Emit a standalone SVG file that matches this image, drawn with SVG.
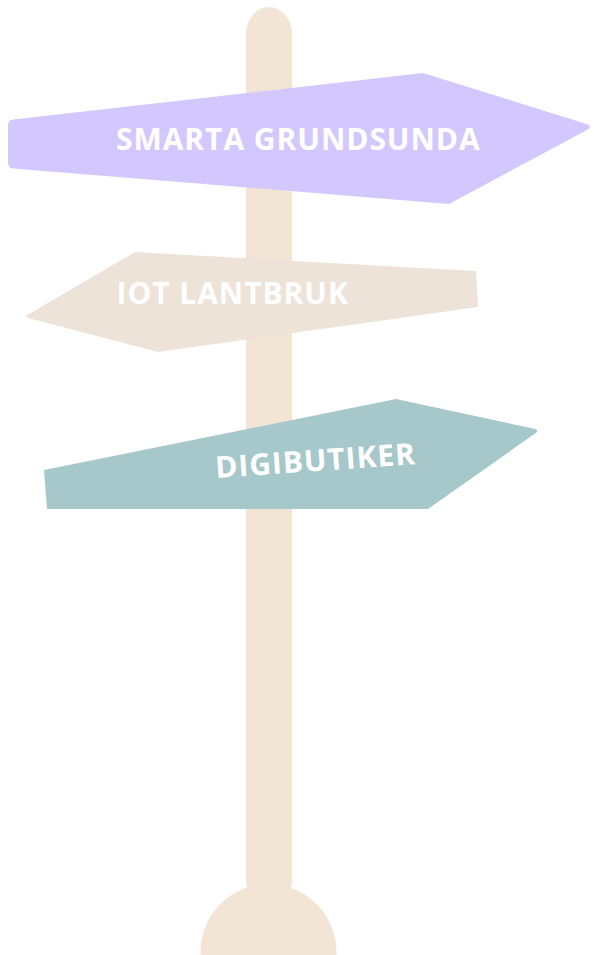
<svg xmlns="http://www.w3.org/2000/svg" width="594" height="955" viewBox="0 0 594 955">
<style>
.post{fill:#F3E5D5}
.lbl{font-family:"Open Sans","Noto Sans",sans-serif;font-weight:700;font-size:30px;fill:#FFFFFF;letter-spacing:0.95px}
</style>
<rect width="594" height="955" fill="#FFFFFF"/>
<g id="post">
<rect class="post" x="246" y="7" width="46" height="900" rx="23" ry="27"/>
<path class="post" d="M200.5,955 L200.5,952 A68,68 0 0 1 336.5,952 L336.5,955 Z"/>
</g>
<g id="sign-smarta-grundsunda">
<path fill="#D3C8FE" d="M13,119.5 L423,73 L585,123.5 Q594,126 587,130 L449,204 L13,168.5 Q8,168 8,163 L8,125 Q8,120 13,119.5 Z"/>
<text class="lbl" x="116" y="149.5">SMARTA GRUNDSUNDA</text>
</g>
<g id="sign-iot-lantbruk">
<path fill="#EDE3D9" d="M135,252 L476,271 L478,307 L158,352 L30,318.6 Q24,317 29,314.1 Z"/>
<text class="lbl" x="116.5" y="304">IOT LANTBRUK</text>
</g>
<g id="sign-digibutiker">
<path fill="#A6C8CA" d="M44,470 L396,399 L532,428.3 Q541,430 535,433.5 L428,509 L47,509 Z"/>
<text class="lbl" x="216" y="478" transform="rotate(-4 216 478)">DIGIBUTIKER</text>
</g>
</svg>
